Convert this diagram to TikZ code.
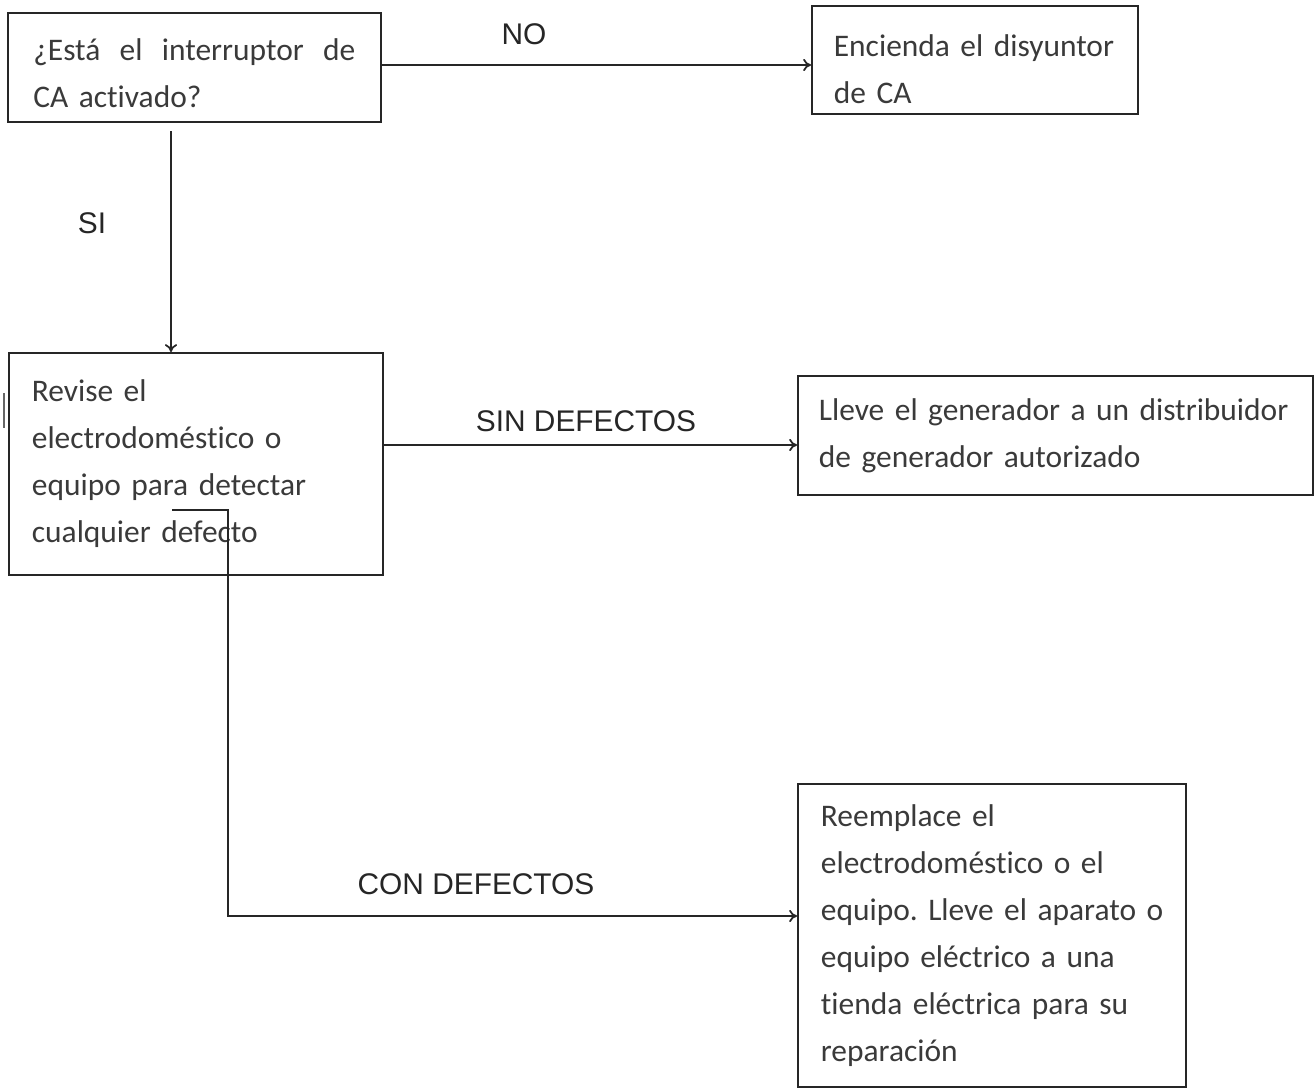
\documentclass[tikz,border=0pt]{standalone}
\usepackage{fontspec}
\setmainfont{Carlito}[Ligatures=NoCommon]
\newfontfamily\labelfont{Liberation Sans}
\usetikzlibrary{arrows.meta}
\definecolor{boxtext}{HTML}{3A3A3A}
\definecolor{edge}{HTML}{262626}
\newcommand\boxfont{\fontsize{17.9pt}{26.7pt}\selectfont\frenchspacing\hyphenpenalty=10000}
\tikzset{
	box/.style={draw=edge, line width=1pt, anchor=north west, align=left, text=boxtext, font=\boxfont, inner ysep=0pt},
	link/.style={draw=edge, line width=1pt, -{To[length=4.5pt,width=7pt]}},
	tag/.style={text=edge, font=\labelfont\fontsize{17pt}{20pt}\selectfont, inner sep=0pt}
}

\begin{document}
\begin{tikzpicture}[x=0.02cm, y=-0.02cm]
		%%%%% START %%%%%
		\useasboundingbox (0, 0) rectangle (1314, 1088);
		
		\node[box, text width=6.44cm, inner xsep=0.51cm, minimum height=2.18cm] (switch) at (7, 12)
			{\hbox to 6.44cm{\rule{0pt}{0.66cm}¿Está\hfill el\hfill interruptor\hfill de}\\CA activado?};
		\node[box, text width=5.64cm, inner xsep=0.44cm, minimum height=2.16cm] (breaker) at (811, 5)
			{\rule{0pt}{0.8cm}Encienda el disyuntor\\de CA};
		\node[box, text width=6.56cm, inner xsep=0.46cm, minimum height=4.44cm] (check) at (8, 352)
			{Revise el\\electrodoméstico o\\equipo para detectar\\cualquier defecto};
		\node[box, text width=9.46cm, inner xsep=0.42cm, minimum height=2.38cm] (dealer) at (797, 375)
			{Lleve el generador a un distribuidor\\de generador autorizado};
		\node[box, text width=6.84cm, inner xsep=0.46cm, minimum height=6.06cm] (replace) at (797, 783)
			{Reemplace el\\electrodoméstico o el\\\mbox{equipo. Lleve el aparato o}\\equipo eléctrico a una\\tienda eléctrica para su\\reparación};
		
		% arrow ends that sit off the box anchors
		\coordinate (noFrom) at (381, 65);
		\coordinate (siFrom) at (171, 131);
		\coordinate (okFrom) at (382, 445);
		\coordinate (badFrom) at (172, 510);
		\coordinate (badBend) at (228, 916);
		
		\draw[link] (noFrom) -- (noFrom -| breaker.west);
		\draw[link] (siFrom) -- (siFrom |- check.north);
		\draw[link] (okFrom) -- (okFrom -| dealer.west);
		\draw[link] (badFrom) -| (badBend) -- (badBend -| replace.west);
		
		\node[tag] (no) at (524, 34) {NO};
		\node[tag] (si) at (92, 223) {SI};
		\node[tag] (ok) at (586, 421) {SIN DEFECTOS};
		\node[tag] (bad) at (476, 884) {CON DEFECTOS};
		
		\draw[line width=0.8pt, color=black!60] (4, 393) -- (4, 428);
		%%%%% END %%%%%
	\end{tikzpicture}
\end{document}
